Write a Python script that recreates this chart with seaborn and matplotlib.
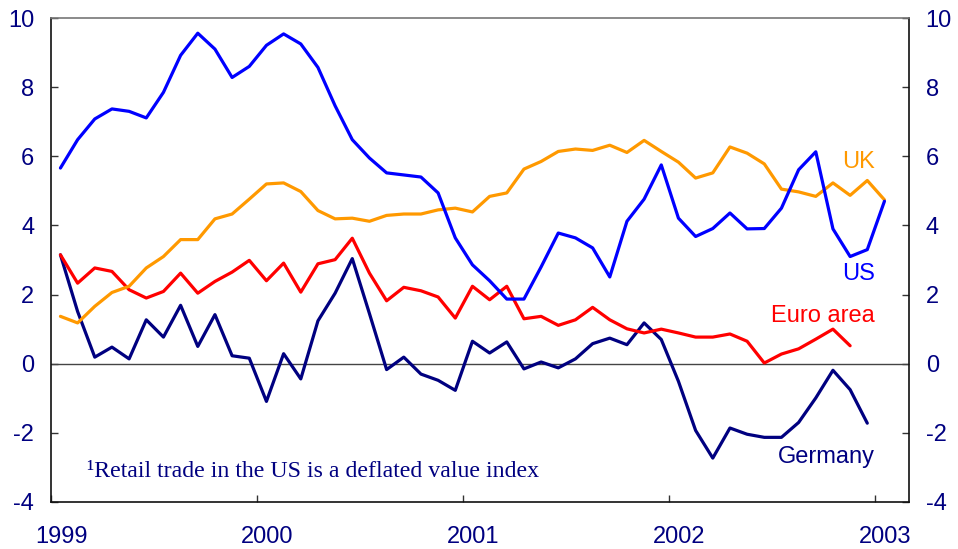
import matplotlib
matplotlib.use("Agg")
import matplotlib.pyplot as plt
import numpy as np
import pandas as pd
import seaborn as sns

# monthly % changes, Jan 1999 onward
us = [5.66, 6.48, 7.08, 7.37, 7.30, 7.11, 7.85, 8.92, 9.56, 9.10, 8.28, 8.60,
      9.21, 9.54, 9.25, 8.57, 7.46, 6.48, 5.95, 5.52, 5.46, 5.40, 4.94, 3.64,
      2.86, 2.40, 1.87, 1.87, 2.80, 3.78, 3.64, 3.35, 2.51, 4.12, 4.76, 5.75,
      4.21, 3.68, 3.91, 4.36, 3.90, 3.91, 4.50, 5.61, 6.13, 3.90, 3.10, 3.30,
      4.70]
uk = [1.37, 1.18, 1.66, 2.06, 2.24, 2.77, 3.10, 3.59, 3.59, 4.19, 4.33, 4.76,
      5.20, 5.23, 4.98, 4.43, 4.19, 4.21, 4.12, 4.29, 4.33, 4.33, 4.45, 4.50,
      4.39, 4.84, 4.94, 5.63, 5.85, 6.14, 6.21, 6.17, 6.32, 6.11, 6.46, 6.14,
      5.83, 5.37, 5.52, 6.27, 6.09, 5.78, 5.05, 4.97, 4.84, 5.23, 4.87, 5.30,
      4.74]
euro = [3.15, 2.33, 2.77, 2.67, 2.14, 1.90, 2.09, 2.62, 2.04, 2.38, 2.65, 2.99,
        2.40, 2.91, 2.07, 2.89, 3.01, 3.63, 2.62, 1.82, 2.21, 2.11, 1.93, 1.32,
        2.24, 1.85, 2.24, 1.30, 1.37, 1.11, 1.27, 1.63, 1.27, 1.01, 0.89, 1.00,
        0.89, 0.77, 0.77, 0.86, 0.65, 0.02, 0.28, 0.43, 0.71, 1.00, 0.52]
germany = [3.15, 1.51, 0.19, 0.48, 0.14, 1.27, 0.77, 1.69, 0.50, 1.42, 0.23, 0.16,
           -1.09, 0.29, -0.44, 1.24, 2.04, 3.04, 1.45, -0.17, 0.19, -0.30, -0.48, -0.77,
           0.65, 0.31, 0.63, -0.15, 0.05, -0.12, 0.14, 0.58, 0.74, 0.55, 1.18, 0.70,
           -0.51, -1.93, -2.73, -1.86, -2.04, -2.13, -2.13, -1.70, -0.99, -0.19, -0.75, -1.72]
years = [1999, 2000, 2001, 2002, 2003]
yticks = [-4, -2, 0, 2, 4, 6, 8, 10]

series = {"Germany": germany, "Euro area": euro, "UK": uk, "US": us}
colors = {"Germany": "#000080", "Euro area": "#FF0000", "UK": "#FF9900", "US": "#0000FF"}

rows = []
for name, vals in series.items():
    for k, v in enumerate(vals):
        rows.append({"date": 1999 + (k + 0.55) / 12, "value": v, "series": name})
df = pd.DataFrame(rows)

sns.set_theme(style="white")
plt.rcParams["font.family"] = ["Liberation Sans", "DejaVu Sans"]

navy = "#000080"
fig = plt.figure(figsize=(9.58, 5.49), dpi=100)
ax = fig.add_axes([51 / 958, 1 - 502 / 549, (909 - 51) / 958, (502 - 18) / 549])

ax.axhline(0, color="#444444", lw=1, zorder=1)
sns.lineplot(data=df, x="date", y="value", hue="series", palette=colors,
             hue_order=list(series.keys()), lw=2.3, legend=False, ax=ax, zorder=3)

ax.set_xlim(1999, 2003.165)
ax.set_ylim(-4, 10)
ax.set_xlabel("")
ax.set_ylabel("")

ax.set_yticks(yticks)
ax.set_yticklabels([str(t) for t in yticks])
ax.tick_params(axis="y", direction="in", length=5, width=1, color="#333333",
               left=True, right=True, labelleft=True, labelright=True,
               labelsize=17, labelcolor=navy, pad=12)

# year ticks inside, labels centred on January
ax.set_xticks([y + 0.05 for y in years])
ax.set_xticklabels([str(y) for y in years])
ax.set_xticks(years, minor=True)
ax.tick_params(axis="x", which="major", length=0, labelsize=17, labelcolor=navy, pad=17)
ax.tick_params(axis="x", which="minor", direction="in", length=5, width=1,
               color="#333333", bottom=True)

for side in ["left", "bottom", "right"]:
    ax.spines[side].set_color("#111111")
    ax.spines[side].set_linewidth(1.2)
ax.spines["top"].set_color("#777777")
ax.spines["top"].set_linewidth(1.2)

ax.text(2003.0, 5.84, "UK", color=colors["UK"], fontsize=17, ha="right", va="center")
ax.text(2003.0, 2.6, "US", color=colors["US"], fontsize=17, ha="right", va="center")
ax.text(2003.0, 1.39, "Euro area", color=colors["Euro area"], fontsize=17, ha="right", va="center")
ax.text(2003.0, -2.69, "Germany", color=colors["Germany"], fontsize=17, ha="right", va="center")
ax.text(1999.175, -3.12, "\u00b9Retail trade in the US is a deflated value index",
        color=navy, fontsize=17.2, family=["Liberation Serif", "DejaVu Serif"],
        ha="left", va="center")

fig.savefig("out.png", dpi=100)
